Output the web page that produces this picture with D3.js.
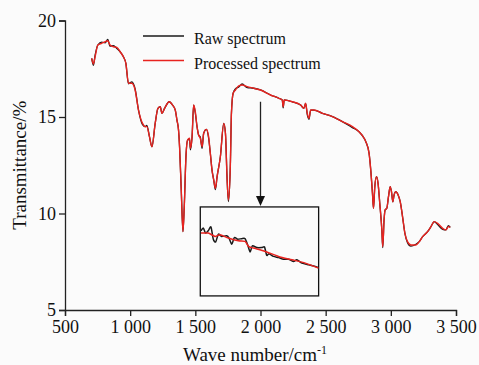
<!DOCTYPE html>
<html>
<head>
<meta charset="utf-8">
<script src="https://cdn.jsdelivr.net/npm/d3@7"></script>
<style>
  html, body { margin: 0; padding: 0; background: #fbfbfb; }
  svg { display: block; }
  svg text { font-family: "Liberation Serif", "Times New Roman", serif; }
</style>
</head>
<body>
<svg id="chart" width="479" height="365"></svg>
<script>
// spectrum
const waveNumbers = [705, 718, 731, 752, 782, 808, 828, 846, 872, 898, 923, 948, 967, 987, 1013, 1038, 1064, 1095, 1115, 1128,
  1148, 1167, 1192, 1213, 1231, 1244, 1264, 1300, 1325, 1346, 1359, 1371, 1379, 1392, 1405, 1415, 1428, 1441, 1456, 1462,
  1475, 1487, 1500, 1513, 1525, 1538, 1552, 1564, 1585, 1602, 1615, 1628, 1641, 1654, 1667, 1692, 1718, 1731, 1744, 1754,
  1769, 1777, 1790, 1808, 1833, 1859, 1898, 1948, 2000, 2077, 2141, 2167, 2174, 2182, 2244, 2308, 2333, 2346, 2359, 2372,
  2385, 2410, 2475, 2552, 2628, 2705, 2756, 2795, 2808, 2833, 2846, 2859, 2867, 2877, 2890, 2902, 2915, 2931, 2938, 2948,
  2956, 2969, 2982, 2995, 3005, 3015, 3025, 3038, 3056, 3072, 3090, 3108, 3128, 3154, 3192, 3218, 3244, 3282, 3308, 3333,
  3359, 3398, 3423, 3441, 3456];

const processedT = [18.04, 17.75, 18.12, 18.73, 18.82, 18.90, 18.95, 18.73, 18.64, 18.61, 18.38, 18.12, 17.78, 16.75, 16.75, 16.40, 15.36, 14.67, 14.50, 14.50,
  13.98, 13.46, 14.67, 15.45, 15.53, 15.19, 15.45, 15.79, 15.62, 15.36, 14.84, 14.33, 13.46, 11.22, 9.06, 10.35, 12.94, 13.81, 13.90, 13.38,
  13.98, 15.62, 15.27, 14.50, 14.07, 13.90, 13.46, 14.16, 14.36, 13.98, 13.12, 12.25, 11.74, 11.31, 11.91, 12.94, 14.67, 14.16, 11.74, 10.70,
  12.60, 15.19, 16.23, 16.40, 16.61, 16.66, 16.57, 16.49, 16.40, 16.14, 15.97, 15.88, 15.53, 15.88, 15.79, 15.62, 15.45, 15.71, 15.19, 14.93,
  15.36, 15.36, 15.19, 15.02, 14.76, 14.50, 14.24, 13.90, 13.72, 13.12, 12.25, 11.05, 10.27, 11.39, 11.91, 11.56, 10.53, 9.15, 8.28, 9.66,
  10.18, 10.27, 10.87, 11.39, 11.13, 10.61, 10.96, 11.13, 10.96, 10.61, 9.83, 8.97, 8.54, 8.37, 8.37, 8.54, 8.80, 9.06, 9.32, 9.58,
  9.49, 9.23, 9.15, 9.32, 9.28];

const rawT = [18.04, 17.68, 18.20, 18.73, 18.88, 18.84, 19.02, 18.67, 18.70, 18.55, 18.38, 18.12, 17.78, 16.72, 16.82, 16.45, 15.36, 14.60, 14.50, 14.57,
  13.98, 13.46, 14.67, 15.45, 15.53, 15.19, 15.45, 15.79, 15.62, 15.36, 14.84, 14.33, 13.46, 11.22, 9.06, 10.35, 12.94, 13.81, 13.84, 13.30,
  13.98, 15.62, 15.20, 14.50, 14.07, 13.96, 13.38, 14.16, 14.36, 13.90, 13.12, 12.25, 11.74, 11.24, 11.91, 12.94, 14.67, 14.16, 11.74, 10.62,
  12.60, 15.19, 16.23, 16.46, 16.55, 16.71, 16.52, 16.49, 16.40, 16.14, 15.97, 15.88, 15.47, 15.88, 15.79, 15.62, 15.45, 15.71, 15.12, 14.88,
  15.36, 15.36, 15.19, 15.02, 14.76, 14.45, 14.24, 13.90, 13.72, 13.12, 12.25, 11.05, 10.27, 11.39, 11.91, 11.56, 10.53, 9.15, 8.23, 9.66,
  10.18, 10.27, 10.87, 11.39, 11.13, 10.61, 10.96, 11.13, 10.96, 10.61, 9.83, 8.97, 8.49, 8.31, 8.41, 8.54, 8.80, 9.06, 9.32, 9.58,
  9.43, 9.18, 9.15, 9.37, 9.28];

// inset: magnified 1 800 - 2 500 cm-1 part
const insetProcWave = [1804, 1847, 1887, 1917, 1966, 2025, 2065, 2085, 2114, 2184, 2263, 2342, 2421, 2500];
const insetProcT = [16.33, 16.33, 16.27, 16.30, 16.24, 16.19, 16.18, 16.09, 16.06, 16.00, 15.91, 15.85, 15.79, 15.70];
const insetRawWave = [1804, 1818, 1831, 1847, 1863, 1877, 1891, 1907, 1926, 1956, 1970, 1986, 2002, 2021, 2045, 2065, 2081, 2095,
  2108, 2134, 2164, 2180, 2193, 2207, 2233, 2263, 2292, 2322, 2352, 2371, 2401, 2441, 2470, 2496];
const insetRawT = [16.37, 16.42, 16.33, 16.37, 16.44, 16.22, 16.17, 16.31, 16.27, 16.28, 16.24, 16.13, 16.25, 16.22, 16.23, 16.23, 16.11, 15.99,
  16.10, 16.07, 16.07, 16.08, 15.93, 15.96, 15.91, 15.89, 15.86, 15.86, 15.82, 15.85, 15.79, 15.76, 15.74, 15.71];

const xTicks = [500, 1000, 1500, 2000, 2500, 3000, 3500];
const yTicks = [5, 10, 15, 20];
const seriesNames = ["Raw spectrum", "Processed spectrum"];
const seriesColors = ["#1a1a1a", "#e8231f"];

// inset box and arrow, in data units
const insetBox = { x0: 1538, x1: 2446, y0: 5.73, y1: 10.34 };
const arrow = { x: 2000, yTop: 15.79, yTip: 10.39 };

const serif = "'Liberation Serif', 'Times New Roman', serif";
const svg = d3.select("#chart");

const x = d3.scaleLinear().domain([500, 3500]).range([65, 456]);
const y = d3.scaleLinear().domain([5, 20]).range([310, 20.5]);

const fmt = d3.formatLocale({ decimal: ".", thousands: " ", grouping: [3], currency: ["", ""] }).format(",");

// axes
const xAxis = svg.append("g")
  .attr("transform", "translate(0," + y(5) + ")")
  .call(d3.axisBottom(x).tickValues(xTicks).tickFormat(fmt).tickSizeOuter(0).tickSize(6).tickPadding(4));
const yAxis = svg.append("g")
  .attr("transform", "translate(" + x(500) + ",0)")
  .call(d3.axisLeft(y).tickValues(yTicks).tickSizeOuter(0).tickSize(6).tickPadding(3));

[xAxis, yAxis].forEach(function(a) {
  a.attr("font-family", serif).attr("font-size", 18);
  a.select(".domain").attr("stroke", "#222").attr("stroke-width", 1.3);
  a.selectAll(".tick line").attr("stroke", "#222").attr("stroke-width", 1.3);
  a.selectAll(".tick text").attr("fill", "#111");
});

// axis titles
const xt = svg.append("text")
  .attr("x", 255).attr("y", 361)
  .attr("text-anchor", "middle")
  .attr("font-family", serif).attr("font-size", 19).attr("fill", "#111")
  .text("Wave number/cm");
xt.append("tspan").attr("dy", -7).attr("font-size", 12).text("-1");

svg.append("text")
  .attr("transform", "translate(26," + (y(5) + y(20)) / 2 + ") rotate(-90)")
  .attr("text-anchor", "middle")
  .attr("font-family", serif).attr("font-size", 19).attr("fill", "#111")
  .text("Transmittance/%");

// spectrum lines
const line = d3.line()
  .x(function(d) { return x(d[0]); })
  .y(function(d) { return y(d[1]); })
  .curve(d3.curveMonotoneX);

const rawPts = waveNumbers.map(function(w, i) { return [w, rawT[i]]; });
const procPts = waveNumbers.map(function(w, i) { return [w, processedT[i]]; });

svg.append("path").datum(rawPts)
  .attr("d", line).attr("fill", "none")
  .attr("stroke", seriesColors[0]).attr("stroke-width", 1.3);
svg.append("path").datum(procPts)
  .attr("d", line).attr("fill", "none")
  .attr("stroke", seriesColors[1]).attr("stroke-width", 1.4);

// inset box
const bx0 = x(insetBox.x0), bx1 = x(insetBox.x1), by0 = y(insetBox.y1), by1 = y(insetBox.y0);
svg.append("rect")
  .attr("x", bx0).attr("y", by0)
  .attr("width", bx1 - bx0).attr("height", by1 - by0)
  .attr("fill", "none").attr("stroke", "#111").attr("stroke-width", 1.3);

const ix = d3.scaleLinear().domain([1800, 2500]).range([bx0, bx1]);
const iy = d3.scaleLinear().domain([15.2, 16.8]).range([by1, by0]);
const insetLine = d3.line()
  .x(function(d) { return ix(d[0]); })
  .y(function(d) { return iy(d[1]); })
  .curve(d3.curveCardinal.tension(0.3));

svg.append("clipPath").attr("id", "insetClip")
  .append("rect").attr("x", bx0).attr("y", by0).attr("width", bx1 - bx0).attr("height", by1 - by0);

const inset = svg.append("g").attr("clip-path", "url(#insetClip)");
inset.append("path")
  .datum(insetRawWave.map(function(w, i) { return [w, insetRawT[i]]; }))
  .attr("d", insetLine).attr("fill", "none")
  .attr("stroke", seriesColors[0]).attr("stroke-width", 1.5);
inset.append("path")
  .datum(insetProcWave.map(function(w, i) { return [w, insetProcT[i]]; }))
  .attr("d", insetLine).attr("fill", "none")
  .attr("stroke", seriesColors[1]).attr("stroke-width", 1.5);

// arrow
const ax = x(arrow.x), aTop = y(arrow.yTop), aTip = y(arrow.yTip);
svg.append("line")
  .attr("x1", ax).attr("x2", ax).attr("y1", aTop).attr("y2", aTip - 6)
  .attr("stroke", "#222").attr("stroke-width", 1.3);
svg.append("path")
  .attr("d", "M" + (ax - 4.5) + "," + (aTip - 10) + "L" + (ax + 4.5) + "," + (aTip - 10) + "L" + ax + "," + aTip + "Z")
  .attr("fill", "#111");

// legend
const legend = svg.append("g").attr("transform", "translate(143,36)");
seriesNames.forEach(function(name, i) {
  const g = legend.append("g").attr("transform", "translate(0," + (i * 24.5) + ")");
  g.append("line").attr("x1", 0).attr("x2", 41).attr("y1", 0).attr("y2", 0)
    .attr("stroke", seriesColors[i]).attr("stroke-width", 1.4);
  g.append("text").attr("x", 51).attr("y", 8)
    .attr("font-family", serif).attr("font-size", 16).attr("fill", "#111")
    .text(name);
});
</script>
</body>
</html>
